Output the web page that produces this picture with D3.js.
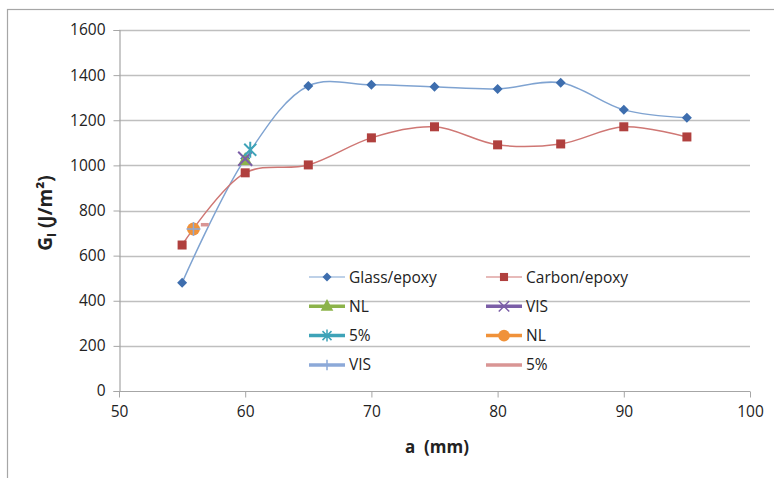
<!DOCTYPE html>
<html><head><meta charset="utf-8">
<script src="https://cdn.jsdelivr.net/npm/d3@7"></script>
<style>body{margin:0;background:#fff}svg{display:block;font-family:"Open Sans",sans-serif}</style>
</head><body><svg id="c" width="774" height="478"></svg>
<script>
const xs = [55,60,65,70,75,80,85,90,95];
const glass = [480,1030,1352,1357,1348,1339,1366,1246,1211];
const carbon = [647,967,1002,1122,1171,1091,1095,1171,1126];
const singles = [
  {name:"NL", x:60, y:1024, type:"tri", color:"#8cb34a"},
  {name:"VIS", x:60, y:1029, type:"x", color:"#7b5ea7"},
  {name:"5%", x:60.4, y:1069, type:"star", color:"#3ea3b8"},
  {name:"NL", x:55.9, y:718, type:"circle", color:"#f0923a"},
  {name:"VIS", x:55.9, y:718, type:"plus", color:"#8ca9d8"},
  {name:"5%", x:56.8, y:737, type:"dash", color:"#d99594"}
];
const yTicks = [0,200,400,600,800,1000,1200,1400,1600];
const xTicks = [50,60,70,80,90,100];

const svg = d3.select("#c");
const x = d3.scaleLinear().domain([50,100]).range([119,750]);
const y = d3.scaleLinear().domain([0,1600]).range([391,30]);

svg.append("rect").attr("x",7.5).attr("y",9.5).attr("width",780).attr("height",480)
  .attr("fill","none").attr("stroke","#a6a6a6").attr("stroke-width",1.2);

svg.append("g").selectAll("line").data(yTicks.filter(d=>d>0)).join("line")
  .attr("x1",119).attr("x2",750).attr("y1",d=>Math.round(y(d))+0.5).attr("y2",d=>Math.round(y(d))+0.5)
  .attr("stroke","#bfbfbf").attr("stroke-width",1.5);

const ya = svg.append("g").attr("transform","translate(119.5,0)")
  .call(d3.axisLeft(y).tickValues(yTicks).tickFormat(d3.format("d")).tickSize(6).tickPadding(8));
const xa = svg.append("g").attr("transform",`translate(0,${Math.round(y(0))+0.5})`)
  .call(d3.axisBottom(x).tickValues(xTicks).tickFormat(d3.format("d")).tickSize(6).tickPadding(8));
[ya,xa].forEach(a=>{
  a.select(".domain").attr("stroke","#a6a6a6").attr("stroke-width",1.2);
  a.selectAll(".tick line").attr("stroke","#a6a6a6");
  a.selectAll("text").attr("font-size",15.5).attr("fill","#222").attr("font-family","Open Sans, sans-serif");
});
xa.select(".domain").attr("d","M119,0V0H750V0");

const line = d3.line().x(d=>x(d[0])).y(d=>y(d[1])).curve(d3.curveCatmullRom.alpha(0.5));
const gd = xs.map((v,i)=>[v,glass[i]]);
const cd = xs.map((v,i)=>[v,carbon[i]]);
svg.append("path").attr("d",line(gd)).attr("fill","none").attr("stroke","#7fa3d1").attr("stroke-width",1.5);
svg.append("path").attr("d",line(cd)).attr("fill","none").attr("stroke","#cf7774").attr("stroke-width",1.5);

function marker(g, type, cx, cy, color, s){
  s = s||1;
  if(type==="diamond") g.append("path").attr("d",`M${cx},${cy-5*s}L${cx+5*s},${cy}L${cx},${cy+5*s}L${cx-5*s},${cy}Z`).attr("fill","#3e6eae");
  else if(type==="square") g.append("rect").attr("x",cx-4.5*s).attr("y",cy-4.5*s).attr("width",9*s).attr("height",9*s).attr("fill","#b0403e");
  else if(type==="tri") g.append("path").attr("d",`M${cx},${cy-8*s}L${cx+7*s},${cy+5*s}L${cx-7*s},${cy+5*s}Z`).attr("fill",color);
  else if(type==="x") g.append("path").attr("d",`M${cx-7*s},${cy-7*s}L${cx+7*s},${cy+7*s}M${cx+7*s},${cy-7*s}L${cx-7*s},${cy+7*s}`).attr("stroke",color).attr("stroke-width",2*s);
  else if(type==="star") g.append("path").attr("d",`M${cx-6*s},${cy-6*s}L${cx+6*s},${cy+6*s}M${cx+6*s},${cy-6*s}L${cx-6*s},${cy+6*s}M${cx},${cy-8*s}L${cx},${cy+8*s}`).attr("stroke",color).attr("stroke-width",2*s);
  else if(type==="circle") g.append("circle").attr("cx",cx).attr("cy",cy).attr("r",6.5*s).attr("fill",color);
  else if(type==="plus") g.append("path").attr("d",`M${cx-7*s},${cy}L${cx+7*s},${cy}M${cx},${cy-7*s}L${cx},${cy+7*s}`).attr("stroke",color).attr("stroke-width",1.5);
  else if(type==="dash") g.append("path").attr("d",`M${cx-4},${cy}L${cx+4},${cy}`).attr("stroke",color).attr("stroke-width",3.5);
}
const mg = svg.append("g");
gd.forEach(d=>marker(mg,"diamond",x(d[0]),y(d[1])));
cd.forEach(d=>marker(mg,"square",x(d[0]),y(d[1])));
singles.forEach(s=>marker(mg,s.type,x(s.x),y(s.y),s.color));

// legend
const legend = [
  {name:"Glass/epoxy", type:"diamond", color:"#7fa3d1", w:1.2},
  {name:"Carbon/epoxy", type:"square", color:"#cf7774", w:1.2},
  ...singles.map(s=>({name:s.name,type:s.type==="dash"?"none":s.type,color:s.color,w:3.5}))
];
const lg = svg.append("g");
legend.forEach((d,i)=>{
  const col=i%2, row=Math.floor(i/2);
  const lx = col? 486:309, ly = 277+row*29.3;
  lg.append("line").attr("x1",lx).attr("x2",lx+36).attr("y1",ly).attr("y2",ly).attr("stroke",d.color).attr("stroke-width",d.w);
  if(d.type!=="none") marker(lg,d.type,lx+18,ly,d.color,(d.type==="x"||d.type==="star"||d.type==="plus")?0.75:0.9);
  lg.append("text").attr("x",lx+40).attr("y",ly+5.5).attr("font-size",15.5).attr("fill","#222").text(d.name);
});

svg.append("text").attr("x",437).attr("y",453).attr("text-anchor","middle").attr("font-size",17).attr("font-weight","bold").attr("fill","#222")
  .html('a&#160;&#160;(mm)');
const yt = svg.append("text").attr("transform","translate(52,213) rotate(-90)").attr("text-anchor","middle").attr("font-size",19).attr("font-weight","bold").attr("fill","#222");
yt.append("tspan").text("G");
yt.append("tspan").attr("font-size",12).attr("dy",4).text("I");
yt.append("tspan").attr("dy",-4).text(" (J/m²)");
</script></body></html>
